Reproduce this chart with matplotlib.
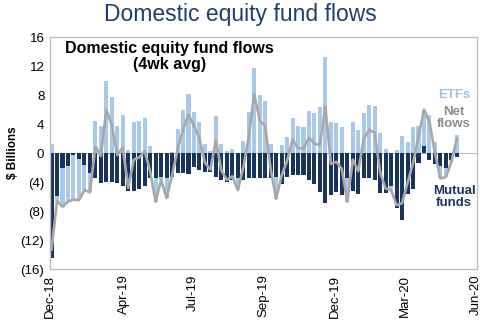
import numpy as np
import matplotlib.pyplot as plt

# fluxos semanais em $ bilhoes (media 4 semanas)
fundos_mutuos = [-14.5, -5.9, -2.0, -1.8, -0.3, -0.8, -1.6, -2.8, -3.5, -4.1,
                 -4.0, -4.0, -4.1, -4.5, -5.2, -5.2, -5.0, -4.5, -3.5, -3.5,
                 -3.3, -3.5, -3.3, -2.8, -2.8, -2.9, -1.9, -2.3, -2.6, -2.6,
                 -3.3, -3.7, -4.0, -3.7, -3.5, -3.7, -3.5, -3.5, -3.5, -3.5,
                 -3.5, -3.3, -4.2, -3.3, -3.0, -3.0, -3.0, -3.7, -4.3, -5.3,
                 -6.9, -5.8, -5.3, -5.8, -3.5, -5.2, -5.7, -3.5, -3.5, -3.7,
                 -5.5, -5.5, -4.6, -7.6, -9.2, -5.7, -5.0, -1.4, 1.0, -0.9,
                 -1.5, -1.8, -2.1, -0.9, -0.5]
etfs = [1.2, -0.7, -5.4, -4.9, -6.1, -5.7, -3.5, -2.6, 4.4, 3.7,
        10.0, 7.8, 3.8, 5.3, 0.4, 4.3, 4.4, 4.8, 1.0, -3.2,
        -0.4, -2.7, 0.2, 3.3, 6.0, 8.2, 5.7, 4.3, 1.3, 0.3,
        5.1, 1.3, 0.3, 0.5, -1.6, 1.7, 5.7, 11.7, 8.0, 7.2,
        1.3, -3.0, 1.1, 2.2, 4.9, 3.7, 3.6, 5.8, 5.6, 6.4,
        13.3, 4.3, 4.1, 3.6, -3.2, 4.3, 3.2, 5.5, 6.7, 6.5,
        2.8, 0.6, -0.5, 0.4, 2.3, 1.6, 3.6, 3.7, 5.0, 5.2,
        1.5, -1.7, -1.2, -0.3, 2.5]
meses = ['Dec-18', 'Apr-19', 'Jul-19', 'Sep-19', 'Dec-19', 'Mar-20', 'Jun-20']
y_ticks = [16, 12, 8, 4, 0, -4, -8, -12, -16]

mf = np.array(fundos_mutuos)
etf = np.array(etfs)
liquido = mf + etf
x = np.arange(len(mf))

azul_escuro = '#17335e'
azul_claro = '#a9c9ea'
cinza = '#a8a8a8'

plt.rcParams['font.family'] = ['Liberation Sans', 'DejaVu Sans']
fig = plt.figure(figsize=(4.8, 3.23), dpi=100)
ax = fig.add_axes([0.104, 0.167, 0.89, 0.718])

# barras empilhadas estilo excel (positivos e negativos separados)
base_etf = np.where(np.sign(etf) == np.sign(mf), mf, 0)
ax.bar(x, mf, width=0.74, color=azul_escuro, zorder=2)
ax.bar(x, etf, bottom=base_etf, width=0.74, color=azul_claro, zorder=2)
ax.axhline(0, color='#b4c0cc', lw=0.8, zorder=1)
ax.plot(x, liquido, color=cinza, lw=1.9, zorder=3)

ax.set_xlim(-0.3, 77.7)
ax.set_ylim(-16, 16)
ax.set_yticks(y_ticks)
ax.set_yticklabels([str(v) if v >= 0 else '(%d)' % -v for v in y_ticks], fontsize=9.5)
ax.set_xticks([-0.3, 13.2, 25.8, 38.7, 51.7, 64.6, 77.4])
ax.set_xticklabels(meses, rotation=90, fontsize=9.5)
ax.tick_params(axis='both', length=0, pad=4)
for s in ax.spines.values():
    s.set_color('#bfbfbf')
    s.set_linewidth(1.0)

ax.set_ylabel('$ Billions', fontsize=8.5, fontweight='bold', labelpad=1)

# textos
fig.text(0.5, 0.955, 'Domestic equity fund flows', ha='center', va='center',
         fontsize=16.5, color='#1f3d6e')
ax.text(0.28, 0.918, 'Domestic equity fund flows\n(4wk avg)', transform=ax.transAxes,
        ha='center', va='center', fontsize=11.5, fontweight='bold', linespacing=1.1)
ax.text(0.946, 0.75, 'ETFs', transform=ax.transAxes, ha='center', va='center',
        fontsize=9.5, fontweight='bold', color='#9dc3e6')
ax.text(0.946, 0.651, 'Net\nflows', transform=ax.transAxes, ha='center', va='center',
        fontsize=9.5, fontweight='bold', color='#8c8c8c', linespacing=1.05)
ax.text(0.946, 0.31, 'Mutual\nfunds', transform=ax.transAxes, ha='center', va='center',
        fontsize=9.5, fontweight='bold', color=azul_escuro, linespacing=1.05)

fig.savefig('out.png', dpi=100)
